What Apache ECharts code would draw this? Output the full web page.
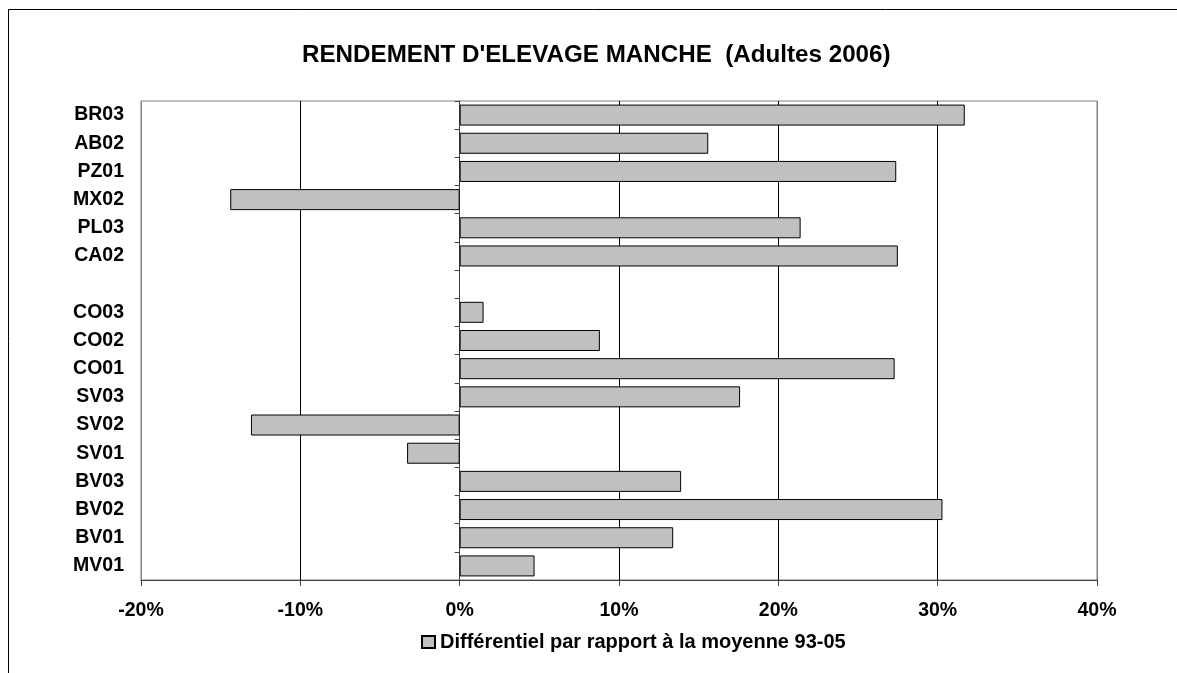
<!DOCTYPE html>
<html>
<head>
<meta charset="utf-8">
<script src="https://cdn.jsdelivr.net/npm/echarts@6/dist/echarts.min.js"></script>
<style>html,body{margin:0;padding:0;background:#fff;}#c{width:1177px;height:673px;}</style>
</head>
<body>
<div id="c"></div>
<script>
const categories = ['BR03','AB02','PZ01','MX02','PL03','CA02','','CO03','CO02','CO01','SV03','SV02','SV01','BV03','BV02','BV01','MV01'];
const values = [31.7, 15.6, 27.4, -14.4, 21.4, 27.5, null, 1.5, 8.8, 27.3, 17.6, -13.1, -3.3, 13.9, 30.3, 13.4, 4.7];
const seriesName = 'Différentiel par rapport à la moyenne 93-05';
const titleText = "RENDEMENT D'ELEVAGE MANCHE  (Adultes 2006)";
const xMin = -20, xMax = 40, xStep = 10;

const chart = echarts.init(document.getElementById('c'), null, {renderer: 'canvas'});
const font = 'Arial, "Liberation Sans", sans-serif';
chart.setOption({
  animation: false,
  backgroundColor: '#fff',
  graphic: [{
    type: 'rect', shape: {x: 8.5, y: 9.5, width: 1300, height: 800},
    style: {fill: 'none', stroke: '#000', lineWidth: 1}, z: -1
  }],
  title: {
    text: titleText, left: 297, top: 38,
    textStyle: {fontFamily: font, fontWeight: 'bold', fontSize: 24.2, color: '#000'}
  },
  legend: {
    data: [{name: seriesName, icon: 'rect'}], left: 421, top: 632, padding: 0, itemWidth: 13, itemHeight: 12, itemGap: 6,
    textStyle: {fontFamily: font, fontWeight: 'bold', fontSize: 20, color: '#000'}
  },
  grid: {left: 141, right: 80, top: 101, bottom: 93, show: true, borderColor: '#808080', borderWidth: 1, backgroundColor: 'transparent'},
  xAxis: {
    type: 'value', min: xMin, max: xMax, interval: xStep,
    axisLine: {show: true, lineStyle: {color: '#404040', width: 1}},
    axisTick: {show: true, length: 6, lineStyle: {color: '#404040'}},
    axisLabel: {formatter: '{value}%', margin: 21, fontFamily: font, fontWeight: 'bold', fontSize: 19.5, color: '#000'},
    splitLine: {show: true, lineStyle: {color: ['#808080','#000','#000','#000','#000','#000','#808080'], width: 1}}
  },
  yAxis: [{
    type: 'category', data: categories, inverse: true,
    axisLine: {show: true, onZero: true, lineStyle: {color: '#404040', width: 1}},
    axisTick: {show: true, length: 5, lineStyle: {color: '#404040'}},
    axisLabel: {show: false},
    splitLine: {show: false}
  }, {
    type: 'category', data: categories, inverse: true, position: 'left',
    axisLine: {show: false, onZero: false}, axisTick: {show: false},
    axisLabel: {show: true, margin: 17, fontFamily: font, fontWeight: 'bold', fontSize: 19.5, color: '#000'},
    splitLine: {show: false}
  }],
  series: [{
    name: seriesName, type: 'bar', data: values, barWidth: 21, yAxisIndex: 0,
    itemStyle: {color: '#C0C0C0', borderColor: '#000', borderWidth: 1}
  }]
});
</script>
</body>
</html>
